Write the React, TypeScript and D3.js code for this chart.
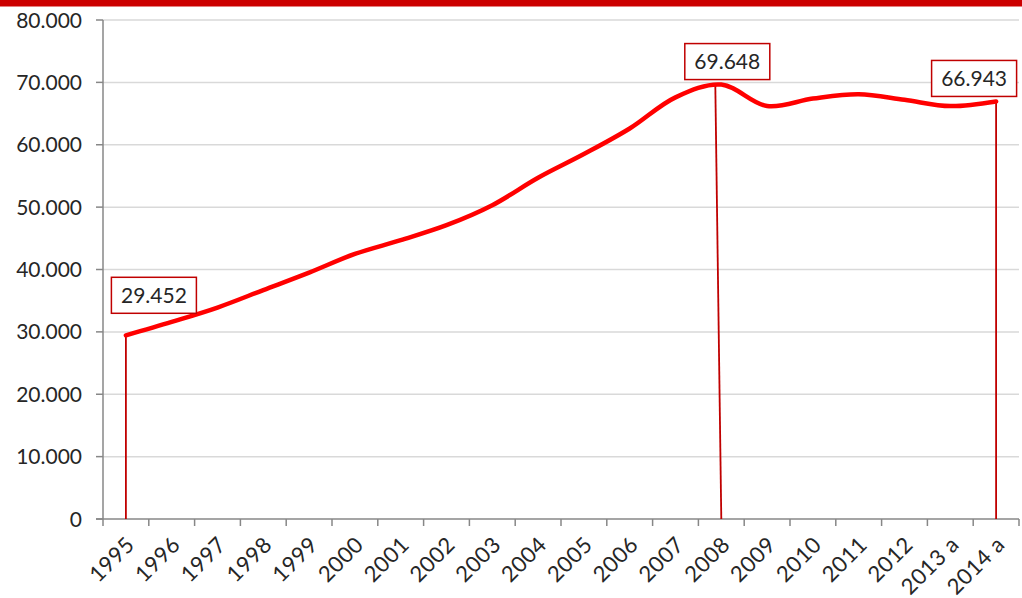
import React from "react";
import * as d3 from "d3";

const categories = ["1995","1996","1997","1998","1999","2000","2001","2002","2003","2004","2005","2006","2007","2008","2009","2010","2011","2012","2013 a","2014 a"];
const values = [29452, 31600, 33900, 36700, 39500, 42500, 44700, 47100, 50300, 54700, 58500, 62600, 67600, 69648, 66200, 67400, 68100, 67200, 66200, 66943];
const yTicks = [0, 10000, 20000, 30000, 40000, 50000, 60000, 70000, 80000];
const annotated = [
  { cat: "1995", dx: 28, dy: -40, topDx: 0 },
  { cat: "2008", dx: 6, dy: -23, topDx: -6 },
  { cat: "2014 a", dx: -22, dy: -23, topDx: 0 },
];

const W = 1022, H = 598;
const left = 103, right = 1019, top = 20, bottom = 519;
const FONT = "Lato, 'Noto Sans', sans-serif";

const locale = d3.formatLocale({ decimal: ",", thousands: ".", grouping: [3], currency: ["", "€"] });
const fmt = locale.format(",d");

export default function App() {
  const x = d3.scaleBand<string>().domain(categories).range([left, right]).padding(0);
  const y = d3.scaleLinear().domain([0, 80000]).range([bottom, top]);
  const cx = (c: string) => (x(c) as number) + x.bandwidth() / 2;
  const pts: [number, number][] = categories.map((c, i) => [cx(c), y(values[i])]);
  const line = d3.line().curve(d3.curveCatmullRom.alpha(0.5))(pts) || "";
  const bounds = d3.range(categories.length + 1).map((i) => left + i * x.bandwidth());

  return (
    <svg width={W} height={H} style={{ position: "absolute", left: 0, top: 0, background: "#fff" }} fontFamily={FONT}>
      <rect x={0} y={0} width={W} height={6.5} fill="#cc0000" />
      {yTicks.map((t) => (
        <g key={t}>
          {t > 0 && <line x1={left} x2={right} y1={y(t)} y2={y(t)} stroke="#d9d9d9" strokeWidth={1.5} />}
          <line x1={96} x2={left} y1={y(t)} y2={y(t)} stroke="#878787" strokeWidth={1.5} />
          <text x={82} y={y(t)} dy="0.36em" textAnchor="end" fontSize={21} fill="#262626">{fmt(t)}</text>
        </g>
      ))}
      <line x1={left} x2={left} y1={top} y2={bottom} stroke="#878787" strokeWidth={1.5} />
      <line x1={96} x2={right} y1={bottom} y2={bottom} stroke="#878787" strokeWidth={1.5} />
      {bounds.map((b, i) => (
        <line key={i} x1={b} x2={b} y1={bottom} y2={bottom + 7} stroke="#878787" strokeWidth={1.5} />
      ))}
      {categories.map((c) => (
        <text key={c} transform={`translate(${cx(c) + 10},${bottom + 27}) rotate(-45)`} textAnchor="end" fontSize={22} letterSpacing={0.5} fill="#262626">{c}</text>
      ))}
      {annotated.map((a) => {
        const i = categories.indexOf(a.cat);
        const px = cx(a.cat), py = y(values[i]);
        return <line key={a.cat} x1={px + a.topDx} x2={px} y1={py} y2={bottom} stroke="#c00000" strokeWidth={1.8} />;
      })}
      <path d={line} fill="none" stroke="#ff0000" strokeWidth={4.5} strokeLinecap="round" strokeLinejoin="round" />
      {annotated.map((a) => {
        const i = categories.indexOf(a.cat);
        const px = cx(a.cat) + a.dx, py = y(values[i]) + a.dy;
        const bw = 85, bh = 36;
        return (
          <g key={"l" + a.cat}>
            <rect x={px - bw / 2} y={py - bh / 2} width={bw} height={bh} fill="#fff" stroke="#c00000" strokeWidth={1.5} />
            <text x={px} y={py} dy="0.36em" textAnchor="middle" fontSize={21} fill="#262626">{fmt(values[i])}</text>
          </g>
        );
      })}
    </svg>
  );
}
